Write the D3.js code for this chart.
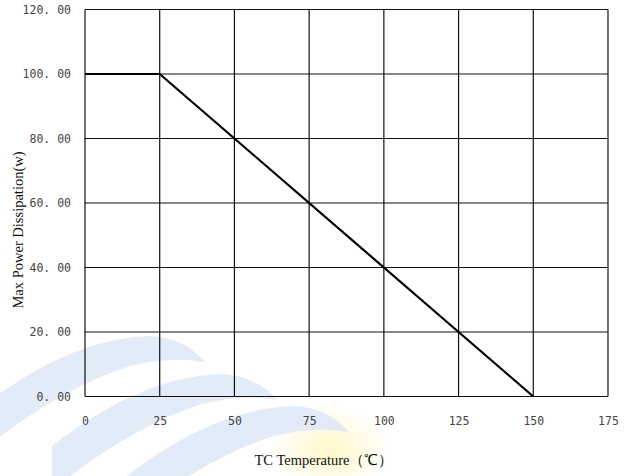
<!DOCTYPE html>
<html>
<head>
<meta charset="utf-8">
<script src="https://cdn.jsdelivr.net/npm/d3@7"></script>
<style>
  body { margin: 0; background: #fff; }
  svg { display: block; }
</style>
</head>
<body>
<div id="chart"></div>
<script>
// data
const temps = [0, 25, 150];
const power = [100, 100, 0];
const xTicks = [0, 25, 50, 75, 100, 125, 150, 175];
const yTicks = [0, 20, 40, 60, 80, 100, 120];

const width = 632, height = 476;
const margin = {top: 9.5, right: 24, bottom: 79.5, left: 85};

const svg = d3.select("#chart").append("svg")
    .attr("width", width)
    .attr("height", height);

// faint watermark behind the chart
const defs = svg.append("defs");
const glow = defs.append("radialGradient").attr("id", "glow");
glow.append("stop").attr("offset", "0%").attr("stop-color", "#fff5c0").attr("stop-opacity", 0.85);
glow.append("stop").attr("offset", "100%").attr("stop-color", "#fff5c0").attr("stop-opacity", 0);
svg.append("ellipse").attr("cx", 330).attr("cy", 450).attr("rx", 60).attr("ry", 45)
    .attr("fill", "url(#glow)");

// three tapered stripes, each one shifted down-right from the last
const stripeShift = [[0, 0], [72, 38], [144, 70]];
const stripe = "M-20,408 Q70,338 150,336 Q185,338 205,362 Q170,356 130,366 Q60,388 -20,452 Z";
svg.selectAll(".swoosh").data(stripeShift).enter().append("path")
    .attr("d", stripe)
    .attr("transform", d => `translate(${d[0]},${d[1]})`)
    .attr("fill", "#dde8f7")
    .attr("opacity", 0.85);

const plotW = width - margin.left - margin.right;
const plotH = height - margin.top - margin.bottom;

const g = svg.append("g")
    .attr("transform", `translate(${margin.left},${margin.top})`);

// scales
let x = d3.scaleLinear().domain([0, 175]).range([0, plotW]);
let y = d3.scaleLinear().domain([0, 120]).range([plotH, 0]);

// grid
g.selectAll(".vgrid").data(xTicks).enter().append("line")
    .attr("x1", d => x(d)).attr("x2", d => x(d))
    .attr("y1", 0).attr("y2", plotH)
    .attr("stroke", "#111").attr("stroke-width", 1.2);
g.selectAll(".hgrid").data(yTicks).enter().append("line")
    .attr("x1", 0).attr("x2", plotW)
    .attr("y1", d => y(d)).attr("y2", d => y(d))
    .attr("stroke", "#111").attr("stroke-width", 1.2);

// axes (labels only)
let xAxis = g.append("g")
    .attr("transform", `translate(0,${plotH})`)
    .call(d3.axisBottom(x).tickValues(xTicks).tickSize(0).tickPadding(20));
let yAxis = g.append("g")
    .call(d3.axisLeft(y).tickValues(yTicks).tickSize(0).tickPadding(14)
        .tickFormat(d => d3.format(".2f")(d).replace(".", ". ")));
[xAxis, yAxis].forEach(a => {
    a.select(".domain").remove();
    a.selectAll("text")
        .style("font-family", "'DejaVu Sans Mono', monospace")
        .style("font-size", "11.5px")
        .attr("fill", "#444");
});

// the derating curve
g.append("path")
    .datum(temps.map((t, i) => [t, power[i]]))
    .attr("fill", "none")
    .attr("stroke", "#000")
    .attr("stroke-width", 2.2)
    .attr("d", d3.line().x(d => x(d[0])).y(d => y(d[1])));

// titles
svg.append("text")
    .attr("x", 324).attr("y", 465)
    .style("text-anchor", "middle")
    .style("font-family", "'Liberation Serif', 'Times New Roman', serif")
    .style("font-size", "14.5px")
    .attr("fill", "#111")
    .text("TC Temperature（℃）");

svg.append("text")
    .attr("transform", "translate(23,230) rotate(-90)")
    .style("text-anchor", "middle")
    .style("font-family", "'Liberation Serif', 'Times New Roman', serif")
    .style("font-size", "14.5px")
    .attr("fill", "#111")
    .text("Max Power Dissipation(w)");
</script>
</body>
</html>
